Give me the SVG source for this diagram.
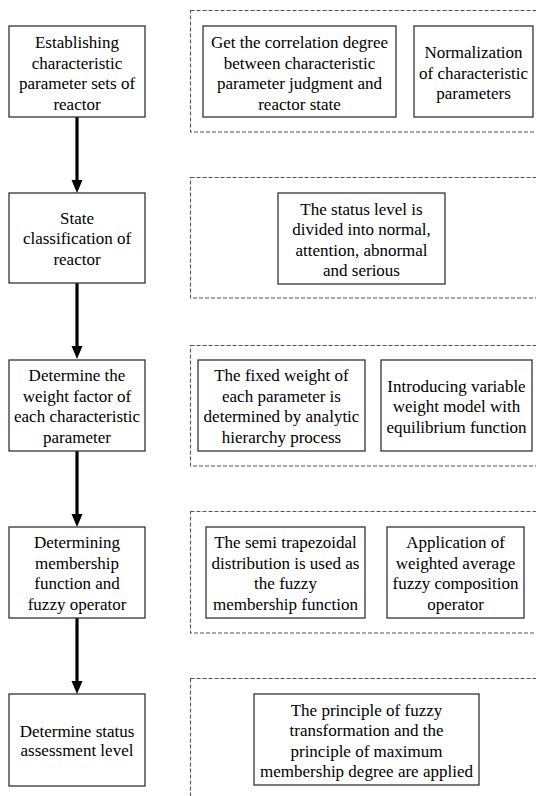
<svg xmlns="http://www.w3.org/2000/svg" width="536" height="796" viewBox="0 0 536 796">
<rect width="536" height="796" fill="#fff"/>
<g id="groups" fill="none" stroke="#555" stroke-width="1.1" stroke-dasharray="4 2">
<rect x="190.5" y="10.5" width="360" height="121.5"/>
<rect x="190.5" y="177.5" width="360" height="120.5"/>
<rect x="190.5" y="345.5" width="360" height="120.5"/>
<rect x="190.5" y="511.5" width="360" height="121.5"/>
<rect x="190.5" y="678.5" width="360" height="140"/>
</g>
<g id="connectors">
<line x1="77" y1="117" x2="77" y2="181" stroke="#000" stroke-width="3.2"/>
<polygon points="71.5,180 82.5,180 77,193" fill="#000"/>
<line x1="77" y1="283" x2="77" y2="347" stroke="#000" stroke-width="3.2"/>
<polygon points="71.5,346 82.5,346 77,359" fill="#000"/>
<line x1="77" y1="451" x2="77" y2="515" stroke="#000" stroke-width="3.2"/>
<polygon points="71.5,514 82.5,514 77,527" fill="#000"/>
<line x1="77" y1="618" x2="77" y2="682" stroke="#000" stroke-width="3.2"/>
<polygon points="71.5,681 82.5,681 77,694" fill="#000"/>
</g>
<g id="step1">
<rect x="9" y="26" width="136" height="91" fill="#fff" stroke="#333" stroke-width="1.3"/>
<text x="77" y="48" font-family="Liberation Serif" font-size="17" text-anchor="middle">Establishing</text>
<text x="77" y="68.5" font-family="Liberation Serif" font-size="17" text-anchor="middle">characteristic</text>
<text x="77" y="89" font-family="Liberation Serif" font-size="17" text-anchor="middle">parameter sets of</text>
<text x="77" y="109.5" font-family="Liberation Serif" font-size="17" text-anchor="middle">reactor</text>
</g>
<g id="step2">
<rect x="9" y="193" width="136" height="90" fill="#fff" stroke="#333" stroke-width="1.3"/>
<text x="77" y="223.5" font-family="Liberation Serif" font-size="17" text-anchor="middle">State</text>
<text x="77" y="244" font-family="Liberation Serif" font-size="17" text-anchor="middle">classification of</text>
<text x="77" y="264.5" font-family="Liberation Serif" font-size="17" text-anchor="middle">reactor</text>
</g>
<g id="step3">
<rect x="9" y="360" width="136" height="91" fill="#fff" stroke="#333" stroke-width="1.3"/>
<text x="77" y="381" font-family="Liberation Serif" font-size="17" text-anchor="middle">Determine the</text>
<text x="77" y="401.5" font-family="Liberation Serif" font-size="17" text-anchor="middle">weight factor of</text>
<text x="77" y="422" font-family="Liberation Serif" font-size="17" text-anchor="middle">each characteristic</text>
<text x="77" y="442.5" font-family="Liberation Serif" font-size="17" text-anchor="middle">parameter</text>
</g>
<g id="step4">
<rect x="9" y="527" width="136" height="91" fill="#fff" stroke="#333" stroke-width="1.3"/>
<text x="77" y="548" font-family="Liberation Serif" font-size="17" text-anchor="middle">Determining</text>
<text x="77" y="568.5" font-family="Liberation Serif" font-size="17" text-anchor="middle">membership</text>
<text x="77" y="589" font-family="Liberation Serif" font-size="17" text-anchor="middle">function and</text>
<text x="77" y="609.5" font-family="Liberation Serif" font-size="17" text-anchor="middle">fuzzy operator</text>
</g>
<g id="step5">
<rect x="9" y="694" width="136" height="92" fill="#fff" stroke="#333" stroke-width="1.3"/>
<text x="77" y="736.5" font-family="Liberation Serif" font-size="17" text-anchor="middle">Determine status</text>
<text x="77" y="756" font-family="Liberation Serif" font-size="17" text-anchor="middle">assessment level</text>
</g>
<g id="r1a">
<rect x="203" y="26" width="193" height="91" fill="#fff" stroke="#333" stroke-width="1.3"/>
<text x="299.5" y="48" font-family="Liberation Serif" font-size="17" text-anchor="middle">Get the correlation degree</text>
<text x="299.5" y="68.5" font-family="Liberation Serif" font-size="17" text-anchor="middle">between characteristic</text>
<text x="299.5" y="89" font-family="Liberation Serif" font-size="17" text-anchor="middle">parameter judgment and</text>
<text x="299.5" y="109.5" font-family="Liberation Serif" font-size="17" text-anchor="middle">reactor state</text>
</g>
<g id="r1b">
<rect x="414" y="26" width="119" height="91" fill="#fff" stroke="#333" stroke-width="1.3"/>
<text x="473.5" y="58" font-family="Liberation Serif" font-size="17" text-anchor="middle">Normalization</text>
<text x="473.5" y="78.5" font-family="Liberation Serif" font-size="17" text-anchor="middle">of characteristic</text>
<text x="473.5" y="99" font-family="Liberation Serif" font-size="17" text-anchor="middle">parameters</text>
</g>
<g id="r2">
<rect x="278" y="193" width="167" height="91" fill="#fff" stroke="#333" stroke-width="1.3"/>
<text x="361.5" y="214.5" font-family="Liberation Serif" font-size="17" text-anchor="middle">The status level is</text>
<text x="361.5" y="235" font-family="Liberation Serif" font-size="17" text-anchor="middle">divided into normal,</text>
<text x="361.5" y="255.5" font-family="Liberation Serif" font-size="17" text-anchor="middle">attention, abnormal</text>
<text x="361.5" y="276" font-family="Liberation Serif" font-size="17" text-anchor="middle">and serious</text>
</g>
<g id="r3a">
<rect x="198" y="360" width="167" height="91" fill="#fff" stroke="#333" stroke-width="1.3"/>
<text x="281.5" y="381" font-family="Liberation Serif" font-size="17" text-anchor="middle">The fixed weight of</text>
<text x="281.5" y="401.5" font-family="Liberation Serif" font-size="17" text-anchor="middle">each parameter is</text>
<text x="281.5" y="422" font-family="Liberation Serif" font-size="17" text-anchor="middle">determined by analytic</text>
<text x="281.5" y="442.5" font-family="Liberation Serif" font-size="17" text-anchor="middle">hierarchy process</text>
</g>
<g id="r3b">
<rect x="381" y="360" width="151" height="91" fill="#fff" stroke="#333" stroke-width="1.3"/>
<text x="456.5" y="391.5" font-family="Liberation Serif" font-size="17" text-anchor="middle">Introducing variable</text>
<text x="456.5" y="412" font-family="Liberation Serif" font-size="17" text-anchor="middle">weight model with</text>
<text x="456.5" y="432.5" font-family="Liberation Serif" font-size="17" text-anchor="middle">equilibrium function</text>
</g>
<g id="r4a">
<rect x="206" y="527" width="159" height="91" fill="#fff" stroke="#333" stroke-width="1.3"/>
<text x="285.5" y="548" font-family="Liberation Serif" font-size="17" text-anchor="middle">The semi trapezoidal</text>
<text x="285.5" y="568.5" font-family="Liberation Serif" font-size="17" text-anchor="middle">distribution is used as</text>
<text x="285.5" y="589" font-family="Liberation Serif" font-size="17" text-anchor="middle">the fuzzy</text>
<text x="285.5" y="609.5" font-family="Liberation Serif" font-size="17" text-anchor="middle">membership function</text>
</g>
<g id="r4b">
<rect x="387" y="527" width="137" height="91" fill="#fff" stroke="#333" stroke-width="1.3"/>
<text x="455.5" y="548" font-family="Liberation Serif" font-size="17" text-anchor="middle">Application of</text>
<text x="455.5" y="568.5" font-family="Liberation Serif" font-size="17" text-anchor="middle">weighted average</text>
<text x="455.5" y="589" font-family="Liberation Serif" font-size="17" text-anchor="middle">fuzzy composition</text>
<text x="455.5" y="609.5" font-family="Liberation Serif" font-size="17" text-anchor="middle">operator</text>
</g>
<g id="r5">
<rect x="254" y="694" width="225" height="91" fill="#fff" stroke="#333" stroke-width="1.3"/>
<text x="366.5" y="715.5" font-family="Liberation Serif" font-size="17" text-anchor="middle">The principle of fuzzy</text>
<text x="366.5" y="736" font-family="Liberation Serif" font-size="17" text-anchor="middle">transformation and the</text>
<text x="366.5" y="756.5" font-family="Liberation Serif" font-size="17" text-anchor="middle">principle of maximum</text>
<text x="366.5" y="777" font-family="Liberation Serif" font-size="17" text-anchor="middle">membership degree are applied</text>
</g>
</svg>
